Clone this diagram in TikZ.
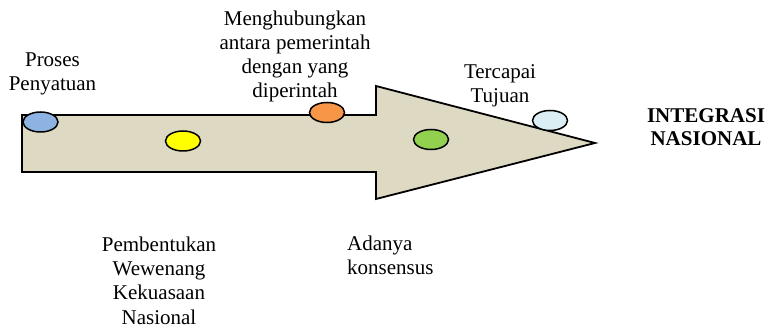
\documentclass[tikz,border=0pt]{standalone}
\usepackage{fontspec}
\setmainfont{Liberation Serif}
\usetikzlibrary{shapes.geometric}
\definecolor{tanfill}{HTML}{DDD9C3}
\definecolor{dotblue}{HTML}{8DB3E2}
\definecolor{dotyellow}{HTML}{FFFF00}
\definecolor{dotorange}{HTML}{F79646}
\definecolor{dotgreen}{HTML}{92D050}
\definecolor{dotlight}{HTML}{DBEEF3}
\begin{document}
\begin{tikzpicture}[x=1pt,y=-1pt,
  dot/.style={ellipse,draw=black,line width=1.5pt,minimum width=35pt,minimum height=20pt,inner sep=0pt},
  lbl/.style={align=center,inner sep=0pt,anchor=base,font=\fontsize{21}{24.3}\selectfont},
  lblleft/.style={align=left,inner sep=0pt,anchor=base west,font=\fontsize{21}{24.3}\selectfont}]
\useasboundingbox (0,0) rectangle (773,328);
\fill[white] (0,0) rectangle (773,328);
\draw[fill=tanfill,line width=1.8pt,line join=miter]
  (22,115) -- (376,115) -- (376,86) -- (595,143) -- (376,199) -- (376,172) -- (22,172) -- cycle;
\node[dot,fill=dotblue] (d1) at (40.5,122) {};
\node[dot,fill=dotyellow] (d2) at (183,141) {};
\node[dot,fill=dotorange] (d3) at (327,112.5) {};
\node[dot,fill=dotgreen] (d4) at (431,139.5) {};
\node[dot,fill=dotlight] (d5) at (550,120.5) {};
\node[lbl] (t1) at (52.5,91) {Proses\\Penyatuan};
\node[lbl] (t2) at (295,98) {Menghubungkan\\antara pemerintah\\dengan yang\\diperintah};
\node[lbl] (t3) at (500,103) {Tercapai\\Tujuan};
\node[lbl,font=\fontsize{21}{23.5}\selectfont\bfseries] (t4) at (706,146) {INTEGRASI\\NASIONAL};
\node[lbl] (t5) at (159,324) {Pembentukan\\Wewenang\\Kekuasaan\\Nasional};
\node[lblleft] (t6) at (347,275) {Adanya\\konsensus};
\end{tikzpicture}
\end{document}
